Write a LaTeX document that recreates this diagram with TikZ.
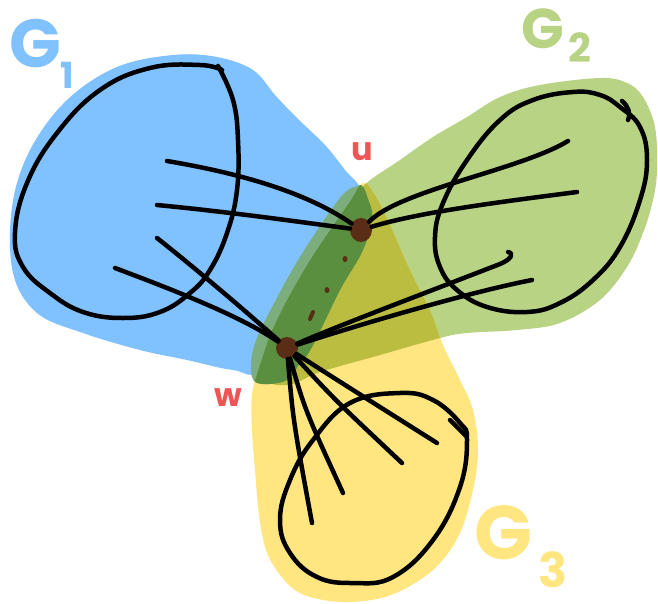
\documentclass[tikz,border=0pt]{standalone}
\usepackage{fontspec}
\newfontfamily\handfont{Poppins}
\usepackage{xcolor}
\definecolor{skyblue}{HTML}{80C1FF}
\definecolor{leaf}{HTML}{B9D384}
\definecolor{butter}{HTML}{FFE680}
\definecolor{mossy}{HTML}{BABD40}
\definecolor{darkband}{HTML}{5A8F3F}
\definecolor{paleband}{HTML}{7BAE7C}
\definecolor{bark}{HTML}{5A2D16}
\definecolor{salmon}{HTML}{F05555}
\usepackage{tikz}
\usetikzlibrary{positioning,shapes.geometric}
\tikzset{
  stroke/.style ={draw=black,line width=4.5pt,line cap=round,line join=round},
  vertex/.style ={ellipse,fill=bark,inner sep=0pt,minimum width=22pt,minimum height=24pt},
  vlbl/.style   ={text=salmon,inner sep=0pt,font=\handfont\bfseries\fontsize{32}{32}\selectfont},
  glbl/.style   ={inner sep=0pt,font=\handfont\bfseries},
}
\newcommand{\blueblob}{plot[smooth cycle,tension=0.6] coordinates {(173,55) (217,57) (253,70)
  (275,95) (297,118) (325,145) (345,170) (360,190) (345,215) (305,290) (262,368) (233,370)
  (187,360) (140,350) (83,333) (37,313) (13,273) (12,207) (30,150) (67,100) (117,67)}}
\newcommand{\greenblob}{plot[smooth cycle,tension=0.6] coordinates {(362,187) (400,160)
  (433,137) (467,117) (500,97) (540,85) (600,78) (627,83) (643,97) (655,127) (657,170)
  (653,200) (643,233) (627,267) (600,300) (560,323) (517,330) (467,333) (440,338) (380,355)
  (320,372) (288,385) (268,372) (300,290) (342,218)}}
\newcommand{\yellowblob}{plot[smooth cycle,tension=0.6] coordinates {(363,183) (375,195)
  (390,225) (410,270) (430,310) (443,345) (460,380) (473,410) (478,450) (473,490) (460,533)
  (440,563) (415,583) (385,597) (350,602) (318,599) (295,590) (278,572) (266,550) (259,515)
  (255,470) (252,430) (252,395) (259,368) (276,322) (309,262) (349,203)}}
\newcommand{\band}{plot[smooth cycle,tension=0.6] coordinates {(357,186) (340,198) (300,257)
  (267,317) (253,350) (252,377) (263,384) (287,380) (300,363) (312,347) (340,290) (363,250)
  (372,217) (368,199) (363,187)}}

\begin{document}
\begin{tikzpicture}[x=1pt,y=-1pt]
\path[use as bounding box,fill=white] (0,0) rectangle (658,603);
%======================= blobs ===================================
\fill[skyblue] \blueblob;
\fill[leaf] \greenblob;
\fill[butter] \yellowblob;
\begin{scope}
  \clip \yellowblob;
  \fill[mossy] \greenblob;
\end{scope}
\fill[paleband] \band;
\begin{scope}
  \clip \yellowblob;
  \fill[darkband] \band;
\end{scope}
%======================= labels ==================================
\node[glbl,text=skyblue,font=\handfont\bfseries\fontsize{68}{68}\selectfont] (g1) at (35,44) {G};
\node[glbl,text=skyblue,font=\handfont\bfseries\fontsize{36}{36}\selectfont] (g1n) at (67,75) {1};
\node[glbl,text=leaf,font=\handfont\bfseries\fontsize{56}{56}\selectfont] (g2) at (543,29) {G};
\node[glbl,text=leaf,font=\handfont\bfseries\fontsize{40}{40}\selectfont] (g2n) at (580,48) {2};
\node[glbl,text=butter,font=\handfont\bfseries\fontsize{76}{76}\selectfont] (g3) at (503,533) {G};
\node[glbl,text=butter,font=\handfont\bfseries\fontsize{48}{48}\selectfont] (g3n) at (553,570) {3};
\node[vlbl] (ulbl) at (362,152) {u};
\node[vlbl] (wlbl) at (228,398) {w};
%======================= cut vertices ============================
\node[vertex] (u) at (361,230) {};
\node[vertex,minimum height=22pt] (w) at (287,348) {};
\fill[bark] (345,259) ellipse (2.5 and 3);
\fill[bark] (327,290) ellipse (2.5 and 3);
\draw[bark,line width=4pt,line cap=round] (313,312) -- (310,319);
%======================= G1 ======================================
\draw[stroke] plot[smooth,tension=0.7] coordinates {(218,66) (233,100) (238,140) (237,190)
  (227,233) (210,270) (190,293) (160,312) (123,318) (83,312) (50,293) (23,267) (15,233)
  (27,183) (57,133) (100,90) (150,68) (200,65) (222,70)};
\coordinate (a1) at (167,161);
\coordinate (a2) at (157,205);
\coordinate (a3) at (157,238);
\coordinate (a4) at (115,268);
\draw[stroke] (a1) .. controls (250,175) and (310,195) .. (u);
\draw[stroke] (a2) .. controls (230,212) and (300,222) .. (u);
\draw[stroke] (a3) .. controls (200,272) and (250,315) .. (w);
\draw[stroke] (a4) .. controls (160,285) and (240,315) .. (w);
%======================= G2 ======================================
\draw[stroke] plot[smooth cycle,tension=0.7] coordinates {(573,92) (600,95) (620,107)
  (640,127) (647,160) (640,200) (620,247) (593,280) (560,303) (527,312) (487,307) (457,290)
  (440,267) (435,237) (443,203) (467,160) (500,120) (533,100)};
\draw[stroke] (622,101) .. controls (628,106) and (631,113) .. (628,120);
\coordinate (b1) at (568,141);
\coordinate (b2) at (577,192);
\coordinate (b3) at (508,252);
\coordinate (b4) at (532,280);
\draw[stroke] (b1) .. controls (520,170) and (400,190) .. (u);
\draw[stroke] (b2) .. controls (500,202) and (420,212) .. (u);
\draw[stroke] (b3) .. controls (514,253) and (512,259) .. (500,264)
  .. controls (420,295) and (340,325) .. (w);
\draw[stroke] (b4) .. controls (480,290) and (380,318) .. (w);
%======================= G3 ======================================
\draw[stroke] plot[smooth cycle,tension=0.7] coordinates {(400,393) (433,400) (460,423)
  (467,440) (460,487) (433,540) (393,577) (353,583) (317,577) (290,553) (280,520) (290,480)
  (313,440) (350,403)};
\draw[stroke] (450,420) -- (466,436);
\coordinate (c1) at (312,523);
\coordinate (c2) at (343,493);
\coordinate (c3) at (402,463);
\coordinate (c4) at (437,443);
\foreach \c/\bx/\by in {c1/293/420,c2/305/410,c3/335/400,c4/345/385}
  \draw[stroke] (w) .. controls (\bx,\by) .. (\c);
\end{tikzpicture}
\end{document}
